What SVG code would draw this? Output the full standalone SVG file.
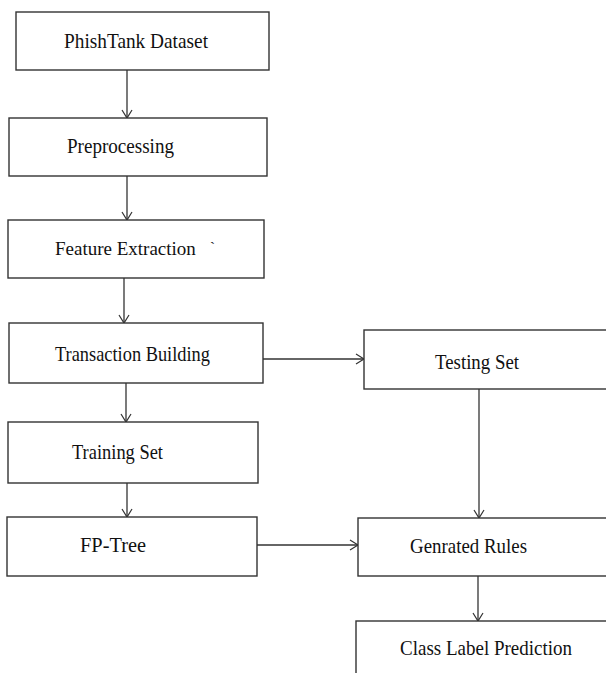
<svg xmlns="http://www.w3.org/2000/svg" width="606" height="673" viewBox="0 0 606 673">
<defs>
<marker id="arr" markerWidth="12" markerHeight="12" refX="0" refY="0" viewBox="-9 -6 10 12" orient="auto" markerUnits="userSpaceOnUse">
<path d="M-8,-5 L0,0 L-8,5" fill="none" stroke="#333" stroke-width="1.2"/>
</marker>
</defs>
<style>
.box{fill:#fff;stroke:#333;stroke-width:1.4}
.lbl{font-family:"Liberation Serif","Times New Roman",serif;font-size:21px;fill:#111}
.con{fill:none;stroke:#333;stroke-width:1.3;marker-end:url(#arr)}
</style>
<rect width="606" height="673" fill="#fff"/>
<g id="connectors">
<line class="con" x1="127" y1="70" x2="127" y2="118"/>
<line class="con" x1="127" y1="176" x2="127" y2="220"/>
<line class="con" x1="124" y1="278" x2="124" y2="323"/>
<line class="con" x1="263" y1="359" x2="364" y2="359"/>
<line class="con" x1="126" y1="383" x2="126" y2="422"/>
<line class="con" x1="479" y1="389" x2="479" y2="518"/>
<line class="con" x1="127" y1="483" x2="127" y2="517"/>
<line class="con" x1="257" y1="545" x2="358" y2="545"/>
<line class="con" x1="478" y1="576" x2="478" y2="621"/>
</g>
<g id="phishtank">
<rect class="box" x="16" y="12" width="253" height="58"/>
<text class="lbl" x="64" y="48" textLength="144" lengthAdjust="spacingAndGlyphs">PhishTank Dataset</text>
</g>
<g id="preprocessing">
<rect class="box" x="9" y="118" width="258" height="58"/>
<text class="lbl" x="67" y="153" textLength="107" lengthAdjust="spacingAndGlyphs">Preprocessing</text>
</g>
<g id="feature">
<rect class="box" x="8" y="220" width="256" height="58"/>
<text class="lbl" x="55" y="255" font-size="19" style="font-size:19px">Feature Extraction</text>
<text class="lbl" x="210" y="252" style="font-size:15px">`</text>
</g>
<g id="transaction">
<rect class="box" x="9" y="323" width="254" height="60"/>
<text class="lbl" x="55" y="361" textLength="155" lengthAdjust="spacingAndGlyphs">Transaction Building</text>
</g>
<g id="testing">
<rect class="box" x="364" y="330" width="250" height="59"/>
<text class="lbl" x="435" y="369" textLength="84" lengthAdjust="spacingAndGlyphs">Testing Set</text>
</g>
<g id="training">
<rect class="box" x="8" y="422" width="250" height="61"/>
<text class="lbl" x="72" y="459" textLength="91" lengthAdjust="spacingAndGlyphs">Training Set</text>
</g>
<g id="fptree">
<rect class="box" x="7" y="517" width="250" height="59"/>
<text class="lbl" x="80" y="552" textLength="66" lengthAdjust="spacingAndGlyphs">FP-Tree</text>
</g>
<g id="rules">
<rect class="box" x="358" y="518" width="256" height="58"/>
<text class="lbl" x="410" y="553" textLength="117" lengthAdjust="spacingAndGlyphs">Genrated Rules</text>
</g>
<g id="classlabel">
<rect class="box" x="356" y="621" width="258" height="70"/>
<text class="lbl" x="400" y="655" textLength="172" lengthAdjust="spacingAndGlyphs">Class Label Prediction</text>
</g>
</svg>
